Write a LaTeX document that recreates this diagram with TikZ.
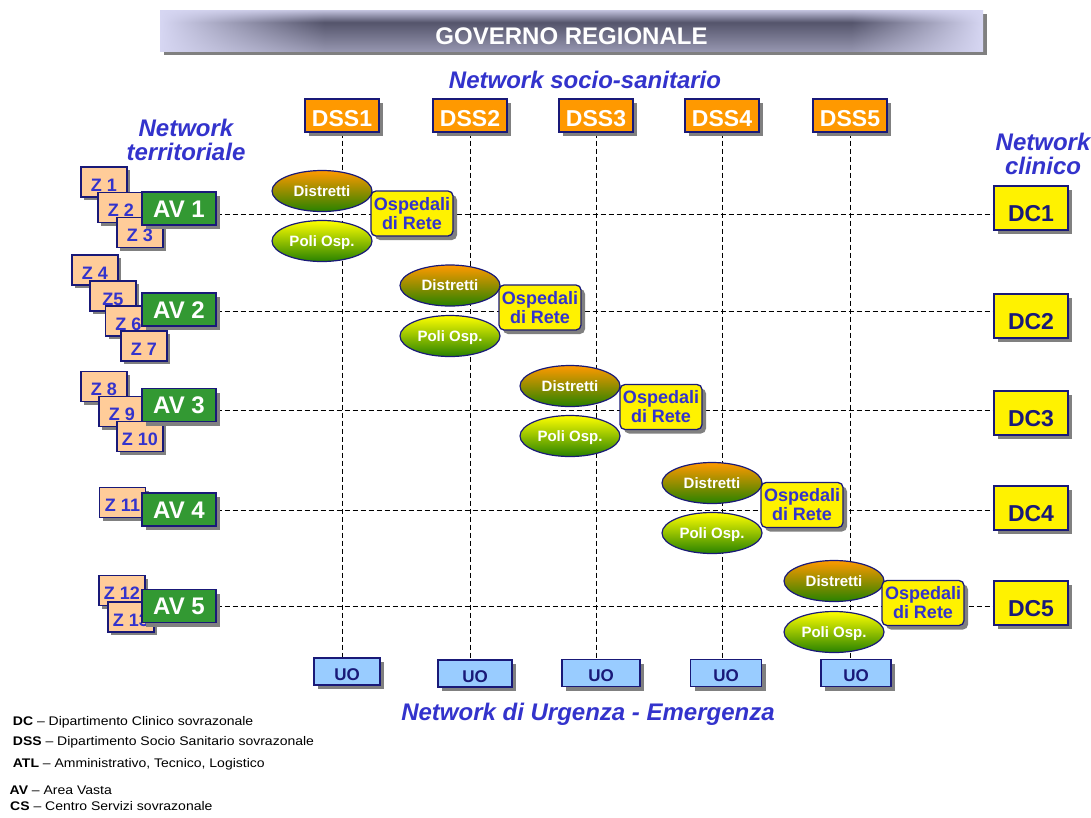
\documentclass[tikz,border=0pt]{standalone}
\usepackage{fontspec}
\setmainfont{Liberation Sans}
\newfontfamily\legendfont{Liberation Sans}[FakeStretch=1.12]
\usetikzlibrary{shapes.geometric,shadows}
\definecolor{navy}{RGB}{25,25,120}
\definecolor{netblue}{RGB}{51,51,204}
\definecolor{dssorange}{RGB}{255,153,0}
\definecolor{avgreen}{RGB}{51,153,51}
\definecolor{zpeach}{RGB}{255,204,153}
\definecolor{uoblue}{RGB}{153,204,255}
\definecolor{shadowgray}{RGB}{128,128,128}
\definecolor{gradgreen}{RGB}{40,130,0}
\pgfdeclarefunctionalshading{govshade}{\pgfpointorigin}{\pgfpoint{100bp}{100bp}}{}{
  exch
  dup 25 sub 10 div
  exch 75 exch sub 8 div
  2 copy add
  3 1 roll
  sub abs
  sub 2 div
  dup 1 sub abs
  exch 1 add exch sub 2 div
  dup abs add 2 div
  exch
  60 sub
  dup -0.02119 mul
  exch abs -0.03548 mul
  add 1 add
  mul
  dup abs add 2 div
  dup 1 sub abs exch 1 add exch sub 2 div
  dup 0.51 mul 0.84 exch sub
  exch
  dup 0.51 mul 0.84 exch sub
  exch
  0.53 mul 0.95 exch sub
}
\pgfdeclarelayer{back}
\pgfdeclarelayer{bg}
\pgfsetlayers{back,bg,main}
\newcommand\fsz[2]{\fontsize{#1}{#2}\selectfont}
\begin{document}
\begin{tikzpicture}[x=1pt,y=-1pt,
  box/.style={draw=navy, line width=1.3pt, inner sep=0pt, text depth=0pt},
  shfour/.style={drop shadow={shadow xshift=4pt, shadow yshift=-4pt, fill=shadowgray, opacity=1}},
  shthree/.style={drop shadow={shadow xshift=3pt, shadow yshift=-3pt, fill=shadowgray, opacity=1}},
  dssbox/.style={box, shfour, fill=dssorange, text=white, minimum width=74pt, minimum height=33pt, text height=21.4pt, font=\fsz{23}{23}\bfseries},
  avbox/.style={box, shfour, fill=avgreen, text=white, minimum width=74pt, minimum height=33pt, text height=17.2pt, font=\fsz{24}{24}\bfseries},
  zbox/.style={box, shthree, fill=zpeach, text=netblue, minimum width=46pt, minimum height=30pt, text height=18.9pt, font=\fsz{18}{18}\bfseries},
  dcbox/.style={box, shfour, fill=yellow, text=navy, minimum width=74pt, minimum height=44pt, text height=26.4pt, font=\fsz{23}{23}\bfseries},
  uobox/.style={box, shfour, fill=uoblue, text=navy, minimum height=27pt, text height=17.2pt, font=\fsz{17}{17}\bfseries},
  distr/.style={ellipse, draw=navy, line width=1.2pt, top color=dssorange, bottom color=gradgreen, minimum width=100pt, minimum height=41pt, inner sep=0pt, text=white, text height=10.7pt, text depth=0pt, font=\fsz{15}{15}\bfseries},
  poli/.style={distr, top color=yellow, bottom color=gradgreen},
  osp/.style={draw=navy, line width=1.3pt, inner sep=0pt, shfour, rounded corners=5pt, fill=yellow, text=netblue, align=center, minimum width=82pt, minimum height=45pt, font=\fsz{18}{19}\bfseries},
  netlabel/.style={text=netblue, align=center, inner sep=0pt, font=\fsz{24}{24}\bfseries\itshape},
  netsingle/.style={netlabel, text height=17.2pt, text depth=0pt},
  netline/.style={line width=1pt, dash pattern=on 5pt off 3pt},
  legend/.style={anchor=west, inner sep=0pt, text height=8.95pt, text depth=0pt, font=\legendfont\fsz{12.5}{13}},
  banner/.style={minimum width=823pt, minimum height=41pt, inner sep=0pt, shading=govshade, shfour, text=white, text height=28.2pt, text depth=0pt, font=\fsz{24}{24}\bfseries}
]
\begin{pgfonlayer}{back}
\fill[white] (0,0) rectangle (1091,817);
\end{pgfonlayer}
\useasboundingbox (0,0) rectangle (1091,817);

% banner and titles
\node[banner] (gov) at (571.5,30.5) {GOVERNO REGIONALE};
\node[netsingle] (nss) at (585,80) {Network socio-sanitario};
\node[netlabel] (nterr) at (186,140) {Network\\territoriale};
\node[netlabel] (nclin) at (1043,154) {Network\\clinico};
\node[netsingle] (nue) at (588,712) {Network di Urgenza - Emergenza};

% DSS
\node[dssbox] (dss1) at (342,115.5) {DSS1};
\node[dssbox] (dss2) at (470,115.5) {DSS2};
\node[dssbox] (dss3) at (596,115.5) {DSS3};
\node[dssbox] (dss4) at (722,115.5) {DSS4};
\node[dssbox] (dss5) at (850,115.5) {DSS5};

% Z and AV
\node[zbox] (z1) at (104,182) {Z 1};
\node[zbox] (z2) at (121,207.5) {Z 2};
\node[zbox] (z3) at (140,232.5) {Z 3};
\node[avbox] (av1) at (179,208.5) {AV 1};

\node[zbox] (z4) at (95,270) {Z 4};
\node[zbox] (z5) at (113,296) {Z5};
\node[zbox] (z6) at (128.5,321) {Z 6};
\node[zbox] (z7) at (144,346) {Z 7};
\node[avbox] (av2) at (179,309.5) {AV 2};

\node[zbox] (z8) at (104,386.5) {Z 8};
\node[zbox] (z9) at (122,411.5) {Z 9};
\node[zbox] (z10) at (140,436.5) {Z 10};
\node[avbox] (av3) at (179,405) {AV 3};

\node[zbox] (z11) at (122.5,502.5) {Z 11};
\node[avbox] (av4) at (179,509.5) {AV 4};

\node[zbox] (z12) at (122,590.5) {Z 12};
\node[zbox] (z13) at (131,617) {Z 13};
\node[avbox] (av5) at (179,606) {AV 5};

% DC
\node[dcbox] (dc1) at (1031,208) {DC1};
\node[dcbox] (dc2) at (1031,316) {DC2};
\node[dcbox] (dc3) at (1031,413) {DC3};
\node[dcbox] (dc4) at (1031,508) {DC4};
\node[dcbox] (dc5) at (1031,603) {DC5};

% clusters
\node[distr] (di1) at (322,191) {Distretti};
\node[poli] (po1) at (322,241) {Poli Osp.};
\node[osp] (os1) at (412,213.5) {Ospedali\\di Rete};

\node[distr] (di2) at (450,285.5) {Distretti};
\node[poli] (po2) at (450,336) {Poli Osp.};
\node[osp] (os2) at (540,307.5) {Ospedali\\di Rete};

\node[distr] (di3) at (570,386) {Distretti};
\node[poli] (po3) at (570,436) {Poli Osp.};
\node[osp] (os3) at (661,407) {Ospedali\\di Rete};

\node[distr] (di4) at (712,483) {Distretti};
\node[poli] (po4) at (712,533) {Poli Osp.};
\node[osp] (os4) at (802,505) {Ospedali\\di Rete};

\node[distr] (di5) at (834,581) {Distretti};
\node[poli] (po5) at (834,632) {Poli Osp.};
\node[osp] (os5) at (923,603) {Ospedali\\di Rete};

% UO
\node[uobox, minimum width=66pt] (uo1) at (347,671.5) {UO};
\node[uobox, minimum width=74pt] (uo2) at (475,673.5) {UO};
\node[uobox, minimum width=78pt] (uo3) at (601,673) {UO};
\node[uobox, minimum width=71pt] (uo4) at (726,673) {UO};
\node[uobox, minimum width=70pt] (uo5) at (856,673) {UO};

% legend
\node[legend] (l1) at (12.7,721) {\textbf{DC} – Dipartimento Clinico sovrazonale};
\node[legend] (l2) at (12.7,741.5) {\textbf{DSS} – Dipartimento Socio Sanitario sovrazonale};
\node[legend] (l3) at (12.7,763) {\textbf{ATL} – Amministrativo, Tecnico, Logistico};
\node[legend] (l4) at (9.5,790) {\textbf{AV} – Area Vasta};
\node[legend] (l5) at (10,806) {\textbf{CS} – Centro Servizi sovrazonale};

% connectors
\begin{pgfonlayer}{bg}
\foreach \i/\s in {1/-5.5,2/-1.5,3/-5,4/-0.5,5/0}
  \draw[netline] ([yshift=\s pt]av\i.east) -- ([yshift=\s pt]av\i.east -| dc\i.west);
\foreach \i in {1,...,5}
  \draw[netline] (dss\i.south) -- (dss\i.south |- uo\i.north);
\end{pgfonlayer}
\end{tikzpicture}
\end{document}
